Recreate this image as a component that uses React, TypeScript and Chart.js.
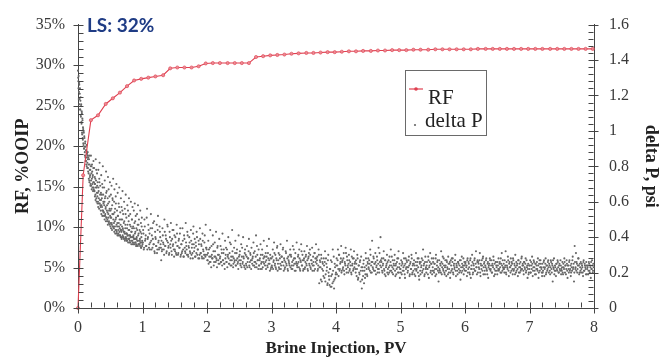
import { useEffect, useRef } from "react";
import { Chart, registerables } from "chart.js";

Chart.register(...registerables);

// ---------- Data ----------
// Recovery factor curve (RF, % OOIP) vs brine injection (PV)
const rfPV = [
  0, 0.08, 0.2, 0.31, 0.43, 0.54, 0.65, 0.76, 0.87, 0.98,
  1.09, 1.2, 1.32, 1.43, 1.54, 1.65, 1.76, 1.87, 1.98, 2.09,
  2.2, 2.32, 2.43, 2.54, 2.65, 2.76, 2.87, 2.98, 3.09, 3.2,
  3.31, 3.42, 3.54, 3.65, 3.76, 3.87, 3.98, 4.09, 4.2, 4.31,
  4.42, 4.54, 4.65, 4.76, 4.87, 4.98, 5.09, 5.2, 5.31, 5.43,
  5.54, 5.65, 5.76, 5.87, 5.98, 6.09, 6.2, 6.32, 6.43, 6.54,
  6.65, 6.76, 6.87, 6.98, 7.09, 7.2, 7.32, 7.43, 7.54, 7.65,
  7.76, 7.87, 7.98,
];
const rfPct = [
  0, 16.4, 23.2, 23.8, 25.2, 25.9, 26.6, 27.4, 28.1, 28.3,
  28.45, 28.6, 28.75, 29.6, 29.7, 29.7, 29.7, 29.85, 30.2, 30.25,
  30.25, 30.25, 30.25, 30.25, 30.25, 31.0, 31.1, 31.2, 31.25, 31.3,
  31.4, 31.45, 31.5, 31.5, 31.55, 31.6, 31.6, 31.65, 31.7, 31.7,
  31.75, 31.75, 31.8, 31.8, 31.85, 31.85, 31.85, 31.9, 31.9, 31.9,
  31.95, 31.95, 31.95, 31.95, 31.95, 31.95, 32.0, 32.0, 32.0, 32.0,
  32.0, 32.0, 32.0, 32.0, 32.0, 32.0, 32.0, 32.0, 32.0, 32.0,
  32.0, 32.0, 32.0,
];

// delta P readings (hundredths of psi), evenly sampled within each 1-PV interval.
// Pass A: samples at the start of each sampling step.
const dp0_1 = [
  134, 128, 131, 122, 126, 118, 124, 112, 119, 108,
  115, 104, 110, 98, 106, 95, 101, 92, 99, 90,
  96, 88, 93, 85, 91, 83, 89, 80, 87, 82,
  88, 79, 85, 76, 84, 72, 81, 74, 78, 70,
  86, 69, 80, 73, 77, 68, 75, 71, 83, 67,
  79, 66, 74, 70, 64, 84, 72, 62, 68, 76,
  63, 71, 60, 78, 66, 59, 73, 82, 61, 69,
  57, 65, 75, 58, 62, 70, 55, 80, 64, 59,
  54, 68, 60, 72, 52, 63, 57, 77, 51, 66,
  58, 50, 62, 74, 53, 67, 49, 60, 56, 71,
  48, 55, 64, 51, 69, 47, 58, 62, 46, 73,
  53, 45, 60, 67, 49, 56, 44, 63, 51, 70,
  43, 55, 48, 65, 52, 42, 59, 46, 68, 50,
  41, 54, 47, 62, 44, 57, 40, 50, 66, 45,
  53, 40, 48, 60, 43, 56, 39, 47, 64, 42,
  51, 38, 45, 58, 41, 55, 39, 49, 62, 44,
  37, 47, 53, 40, 60, 43, 38, 50, 45, 57,
  36, 46, 41, 55, 39, 48, 59, 37, 43, 52,
  35, 45, 40, 53, 38, 47, 58, 36, 42, 50,
  36, 44, 39, 55, 37, 48, 34, 42, 51, 38,
];
const dp1_2 = [
  36, 44, 33, 50, 38, 41, 35, 56, 39, 47,
  34, 42, 37, 53, 33, 45, 39, 36, 49, 31,
  40, 35, 47, 33, 52, 38, 34, 43, 36, 27,
  32, 45, 37, 33, 50, 35, 41, 31, 38, 46,
  34, 30, 43, 36, 48, 32, 39, 35, 44, 29,
  33, 40, 31, 47, 35, 30, 38, 34, 42, 29,
  36, 31, 45, 33, 29, 39, 32, 48, 35, 30,
  41, 29, 34, 37, 31, 44, 30, 36, 28, 46,
  32, 39, 29, 35, 43, 30, 33, 38, 28, 45,
  31, 36, 29, 42, 33, 28, 37, 30, 47, 34,
];
const dp2_3 = [
  30, 27, 38, 33, 26, 44, 29, 35, 28, 41,
  32, 26, 37, 29, 43, 27, 34, 30, 25, 39,
  28, 35, 26, 31, 42, 27, 33, 25, 38, 30,
  26, 33, 29, 40, 25, 31, 27, 36, 24, 44,
  29, 25, 34, 27, 38, 24, 31, 28, 26, 41,
  27, 32, 24, 36, 29, 25, 40, 28, 23, 33,
  30, 24, 35, 26, 28, 39, 23, 31, 27, 34,
  25, 29, 37, 24, 32, 26, 41, 23, 30, 27,
  33, 24, 28, 36, 25, 22, 30, 26, 38, 29,
  24, 31, 27, 35, 23, 28, 39, 25, 30, 22,
];
const dp3_4 = [
  28, 23, 33, 26, 37, 24, 30, 22, 27, 35,
  25, 31, 22, 28, 36, 24, 29, 26, 34, 21,
  27, 23, 32, 25, 38, 22, 29, 26, 24, 33,
  30, 22, 26, 35, 24, 28, 21, 31, 25, 37,
  23, 29, 26, 33, 22, 27, 36, 24, 30, 21,
  27, 32, 23, 29, 25, 35, 22, 28, 31, 24,
  30, 22, 27, 34, 24, 26, 21, 31, 28, 36,
  25, 29, 22, 33, 14, 27, 23, 30, 15, 26,
  21, 28, 17, 32, 19, 25, 23, 14, 30, 18,
  13, 22, 27, 12, 19, 33, 15, 11, 25, 17,
];
const dp4_5 = [
  20, 28, 24, 33, 18, 30, 22, 26, 35, 21,
  27, 23, 31, 19, 25, 34, 22, 29, 24, 20,
  30, 21, 26, 33, 19, 24, 28, 22, 32, 25,
  22, 27, 18, 30, 16, 24, 20, 26, 15, 29,
  11, 23, 18, 27, 21, 17, 31, 24, 19, 26,
  28, 22, 25, 33, 20, 26, 38, 23, 29, 21,
  25, 31, 19, 24, 27, 22, 34, 20, 26, 40,
  23, 28, 20, 25, 32, 21, 27, 18, 24, 30,
  26, 19, 23, 29, 21, 33, 24, 20, 27, 22,
  24, 30, 18, 25, 22, 28, 20, 32, 23, 17,
];
const dp5_6 = [
  22, 27, 19, 25, 31, 21, 24, 17, 28, 23,
  26, 20, 23, 29, 18, 25, 22, 30, 19, 24,
  21, 27, 24, 18, 31, 22, 26, 20, 28, 16,
  25, 19, 23, 28, 21, 33, 24, 18, 26, 22,
  20, 26, 22, 29, 17, 24, 31, 21, 25, 19,
  23, 28, 20, 25, 18, 30, 22, 26, 21, 15,
  27, 21, 24, 32, 19, 25, 22, 28, 20, 23,
  24, 18, 26, 22, 29, 20, 25, 17, 27, 21,
  22, 28, 19, 25, 23, 30, 18, 24, 21, 26,
  25, 20, 27, 16, 23, 29, 21, 24, 19, 26,
];
const dp6_7 = [
  21, 26, 23, 18, 28, 22, 25, 20, 27, 17,
  24, 30, 19, 25, 22, 28, 21, 32, 23, 26,
  20, 25, 22, 31, 18, 24, 27, 21, 29, 23,
  26, 19, 23, 28, 21, 25, 17, 24, 22, 27,
  22, 27, 20, 24, 29, 18, 25, 21, 26, 23,
  19, 24, 28, 22, 26, 20, 25, 31, 21, 23,
  25, 20, 23, 32, 19, 24, 22, 27, 18, 26,
  23, 28, 21, 25, 19, 27, 22, 24, 30, 20,
  21, 25, 18, 27, 23, 20, 26, 22, 29, 24,
  24, 19, 26, 22, 28, 21, 23, 17, 25, 20,
];
const dp7_8 = [
  22, 27, 20, 24, 29, 18, 23, 26, 21, 25,
  19, 24, 22, 28, 17, 25, 21, 27, 23, 20,
  25, 21, 26, 18, 23, 28, 20, 24, 22, 27,
  20, 24, 19, 27, 22, 25, 15, 23, 28, 21,
  23, 18, 25, 21, 26, 20, 24, 22, 27, 19,
  21, 26, 19, 23, 28, 20, 24, 22, 25, 17,
  24, 20, 27, 22, 18, 25, 21, 29, 23, 15,
  35, 22, 31, 26, 20, 24, 28, 19, 25, 21,
  20, 25, 23, 18, 27, 21, 24, 22, 26, 19,
  23, 19, 26, 21, 24, 17, 22, 27, 20, 25,
];

// Pass B: samples half a step later.
const dpB0_1 = [
  130, 124, 118, 127, 115, 121, 112, 117, 109, 114,
  105, 111, 99, 107, 96, 102, 93, 100, 90, 97,
  91, 86, 94, 83, 89, 81, 92, 85, 79, 86,
  84, 77, 81, 73, 86, 71, 78, 75, 69, 80,
  72, 76, 67, 81, 70, 74, 66, 79, 68, 71,
  66, 70, 63, 73, 61, 68, 78, 60, 65, 69,
  59, 65, 57, 68, 62, 56, 71, 59, 64, 58,
  55, 61, 53, 64, 57, 52, 68, 55, 60, 54,
  52, 58, 50, 62, 53, 56, 49, 65, 51, 55,
  49, 54, 47, 59, 51, 48, 55, 63, 47, 52,
  46, 51, 45, 56, 48, 44, 53, 61, 46, 50,
  45, 48, 43, 54, 46, 42, 50, 59, 44, 47,
  42, 46, 41, 52, 44, 41, 48, 57, 43, 45,
  41, 44, 40, 50, 43, 39, 46, 55, 41, 44,
  40, 43, 39, 49, 42, 38, 45, 53, 40, 42,
  39, 42, 38, 47, 41, 37, 44, 52, 39, 41,
  38, 41, 37, 46, 40, 36, 43, 50, 38, 40,
  37, 40, 36, 45, 39, 36, 42, 49, 37, 39,
  36, 39, 35, 44, 38, 35, 41, 47, 36, 38,
  36, 38, 35, 43, 37, 34, 40, 46, 35, 37,
];
const dpB1_2 = [
  37, 42, 34, 46, 39, 35, 51, 33, 40, 44,
  36, 33, 45, 38, 41, 34, 48, 36, 32, 43,
  39, 35, 31, 44, 37, 33, 46, 40, 34, 38,
  33, 41, 36, 30, 43, 35, 39, 32, 47, 37,
  35, 31, 40, 34, 38, 30, 44, 36, 33, 41,
  32, 37, 30, 42, 35, 31, 39, 34, 45, 30,
  36, 32, 38, 29, 41, 34, 31, 37, 33, 43,
  30, 35, 40, 32, 28, 38, 34, 31, 42, 36,
  34, 29, 37, 31, 40, 33, 28, 36, 30, 39,
  31, 35, 28, 38, 32, 30, 41, 29, 34, 33,
];
const dpB2_3 = [
  27, 31, 25, 29, 34, 26, 23, 30, 28, 36,
  24, 29, 32, 26, 28, 23, 35, 27, 30, 25,
  29, 26, 33, 24, 27, 31, 25, 22, 28, 34,
  26, 23, 30, 28, 25, 37, 24, 29, 27, 32,
  23, 28, 26, 31, 24, 27, 33, 25, 22, 29,
  30, 25, 27, 23, 34, 26, 29, 24, 31, 22,
  25, 29, 23, 28, 32, 24, 26, 30, 22, 27,
  28, 24, 31, 26, 23, 29, 25, 35, 27, 22,
  24, 27, 22, 30, 26, 33, 23, 28, 25, 29,
  26, 22, 29, 24, 31, 25, 27, 21, 28, 23,
];
const dpB3_4 = [
  24, 29, 22, 27, 31, 25, 23, 28, 34, 21,
  27, 23, 30, 25, 22, 29, 26, 33, 24, 28,
  22, 26, 31, 24, 28, 21, 27, 25, 30, 23,
  29, 24, 22, 27, 33, 25, 28, 21, 26, 24,
  25, 30, 23, 28, 21, 26, 32, 24, 27, 22,
  28, 22, 26, 30, 24, 27, 21, 29, 25, 33,
  23, 27, 25, 21, 29, 24, 31, 22, 26, 28,
  27, 21, 24, 30, 23, 26, 16, 28, 22, 25,
  18, 24, 26, 15, 28, 21, 13, 27, 20, 16,
  22, 12, 18, 26, 14, 21, 29, 16, 23, 19,
];
const dpB4_5 = [
  24, 19, 27, 22, 30, 21, 25, 28, 20, 26,
  22, 28, 21, 26, 24, 31, 20, 27, 23, 25,
  27, 22, 24, 20, 29, 25, 21, 28, 23, 26,
  20, 25, 22, 28, 17, 24, 19, 27, 21, 23,
  16, 21, 25, 14, 23, 19, 28, 22, 18, 25,
  23, 27, 21, 30, 24, 20, 26, 22, 28, 25,
  21, 26, 23, 29, 20, 25, 22, 31, 24, 27,
  26, 21, 24, 28, 22, 19, 27, 23, 25, 20,
  22, 27, 20, 24, 26, 21, 29, 23, 19, 25,
  27, 21, 24, 19, 26, 23, 28, 20, 25, 22,
];
const dpB5_6 = [
  20, 24, 26, 21, 23, 28, 19, 25, 22, 27,
  23, 21, 27, 24, 19, 26, 22, 28, 20, 25,
  25, 19, 22, 26, 21, 24, 28, 23, 18, 26,
  21, 26, 24, 20, 27, 22, 25, 19, 29, 23,
  24, 22, 19, 27, 23, 26, 20, 25, 28, 21,
  26, 21, 25, 22, 28, 19, 24, 27, 23, 20,
  22, 25, 20, 26, 23, 29, 21, 24, 19, 27,
  21, 27, 23, 19, 25, 22, 26, 20, 24, 28,
  26, 20, 24, 22, 27, 21, 25, 23, 19, 26,
  22, 24, 21, 27, 20, 25, 23, 28, 22, 24,
];
const dpB6_7 = [
  25, 21, 24, 27, 20, 26, 23, 19, 28, 22,
  22, 26, 20, 24, 27, 21, 25, 23, 19, 27,
  26, 23, 27, 20, 25, 22, 24, 28, 19, 25,
  21, 24, 27, 22, 19, 26, 23, 25, 28, 21,
  24, 20, 25, 23, 27, 22, 19, 26, 24, 21,
  26, 22, 21, 25, 23, 28, 20, 24, 27, 22,
  22, 27, 24, 20, 26, 23, 29, 21, 25, 23,
  20, 24, 26, 22, 28, 21, 25, 19, 23, 26,
  24, 22, 27, 20, 25, 23, 21, 28, 22, 25,
  21, 26, 23, 25, 20, 27, 24, 22, 19, 24,
];
const dpB7_8 = [
  24, 20, 26, 22, 25, 21, 27, 23, 19, 25,
  22, 26, 21, 24, 20, 27, 23, 25, 22, 18,
  20, 23, 27, 22, 25, 19, 24, 21, 26, 23,
  25, 21, 23, 26, 20, 24, 27, 22, 19, 24,
  21, 25, 22, 27, 23, 20, 25, 21, 24, 22,
  23, 20, 25, 22, 26, 24, 19, 27, 21, 24,
  22, 26, 21, 24, 20, 23, 27, 22, 25, 20,
  26, 23, 21, 25, 22, 28, 24, 20, 23, 26,
  22, 24, 20, 26, 21, 25, 23, 19, 24, 22,
  24, 21, 25, 20, 23, 26, 22, 24, 21, 23,
];

const DP_PASS_A = [dp0_1, dp1_2, dp2_3, dp3_4, dp4_5, dp5_6, dp6_7, dp7_8];
const DP_PASS_B = [dpB0_1, dpB1_2, dpB2_3, dpB3_4, dpB4_5, dpB5_6, dpB6_7, dpB7_8];

// ---------- Styles ----------
const SERIF = '"Liberation Serif", "Times New Roman", serif';
const AXIS_COLOR = "#444444";
const LABEL_COLOR = "#3a3a3a";
const RF_COLOR = "#df3f4f";
const DOT_COLOR = "#666666";

function deltaPPoints() {
  const pts: { x: number; y: number }[] = [];
  DP_PASS_A.forEach((seg, s) => {
    seg.forEach((v, i) => pts.push({ x: s + i / seg.length, y: v / 100 }));
  });
  DP_PASS_B.forEach((seg, s) => {
    seg.forEach((v, i) => pts.push({ x: s + (i + 0.5) / seg.length, y: v / 100 }));
  });
  return pts;
}

function strokeSeg(ctx: CanvasRenderingContext2D, x1: number, y1: number, x2: number, y2: number) {
  ctx.beginPath();
  ctx.moveTo(x1, y1);
  ctx.lineTo(x2, y2);
  ctx.stroke();
}

const decorPlugin = {
  id: "decor",
  afterDraw(chart: any) {
    const ctx: CanvasRenderingContext2D = chart.ctx;
    const { chartArea, scales } = chart;
    const xs = scales.x;
    const yl = scales.y;
    const yr = scales.y1;
    const L = Math.round(chartArea.left) + 0.5;
    const R = Math.round(chartArea.right) - 0.5;
    const B = Math.round(chartArea.bottom) - 0.5;
    ctx.save();
    ctx.strokeStyle = AXIS_COLOR;
    ctx.lineWidth = 1;
    // left axis ticks: every 1 %, major every 5 %
    for (let k = 0; k <= 35; k++) {
      const p = Math.round(yl.getPixelForValue(k)) + 0.5;
      const major = k % 5 === 0;
      strokeSeg(ctx, L - (major ? 5 : 0), p, L + 5, p);
    }
    // right axis ticks: every 0.04, major every 0.2
    for (let k = 0; k <= 40; k++) {
      const p = Math.round(yr.getPixelForValue(k * 0.04)) + 0.5;
      const major = k % 5 === 0;
      strokeSeg(ctx, R - 5, p, R + (major ? 5 : 0), p);
    }
    // x axis ticks: every 0.2, major every 1
    for (let k = 0; k <= 40; k++) {
      const p = Math.round(xs.getPixelForValue(k * 0.2)) + 0.5;
      const major = k % 5 === 0;
      strokeSeg(ctx, p, B - 5, p, B + (major ? 6 : 0));
    }

    // annotation
    ctx.font = "bold 19px Lato, sans-serif";
    ctx.fillStyle = "#1f3c85";
    ctx.textAlign = "left";
    ctx.textBaseline = "alphabetic";
    ctx.fillText("LS: 32%", 87, 32);

    // legend box
    ctx.strokeStyle = "#6a6a6a";
    ctx.lineWidth = 1;
    ctx.strokeRect(405.5, 70.5, 81, 65);
    ctx.strokeStyle = RF_COLOR;
    ctx.lineWidth = 1.2;
    strokeSeg(ctx, 409, 89, 423, 89);
    ctx.fillStyle = RF_COLOR;
    ctx.beginPath();
    ctx.arc(416, 89, 1.8, 0, Math.PI * 2);
    ctx.fill();
    ctx.fillStyle = DOT_COLOR;
    ctx.beginPath();
    ctx.arc(415, 125, 1.1, 0, Math.PI * 2);
    ctx.fill();
    ctx.fillStyle = "#222";
    ctx.font = `21px ${SERIF}`;
    ctx.fillText("RF", 428, 104);
    ctx.fillText("delta P", 425, 127);
    ctx.restore();
  },
};

export default function App() {
  const ref = useRef<HTMLCanvasElement>(null);

  useEffect(() => {
    const canvas = ref.current;
    if (!canvas) return;
    const rfData = rfPV.map((x, i) => ({ x, y: rfPct[i] }));
    const chart = new Chart(canvas, {
      type: "scatter",
      data: {
        datasets: [
          {
            label: "RF",
            data: rfData,
            yAxisID: "y",
            showLine: true,
            borderColor: RF_COLOR,
            borderWidth: 1.1,
            backgroundColor: "#e8707c",
            pointRadius: 1.6,
            pointBorderWidth: 0.6,
            pointBorderColor: RF_COLOR,
            pointBackgroundColor: "#ec8a94",
            clip: false,
          },
          {
            label: "delta P",
            data: deltaPPoints(),
            yAxisID: "y1",
            showLine: false,
            pointRadius: 1.05,
            pointBorderWidth: 0,
            pointBackgroundColor: DOT_COLOR,
            backgroundColor: DOT_COLOR,
            clip: false,
          },
        ],
      },
      options: {
        animation: false,
        responsive: true,
        maintainAspectRatio: false,
        events: [],
        layout: { padding: { top: 18, left: 0, right: 0, bottom: 0 } },
        plugins: {
          legend: { display: false },
          tooltip: { enabled: false },
        },
        scales: {
          x: {
            type: "linear",
            position: "bottom",
            min: 0,
            max: 8,
            grid: { display: false, drawTicks: false },
            border: { display: true, color: AXIS_COLOR, width: 1 },
            ticks: {
              stepSize: 1,
              padding: 10,
              color: LABEL_COLOR,
              font: { family: SERIF, size: 16 },
              maxRotation: 0,
            },
            title: {
              display: true,
              text: "Brine Injection, PV",
              color: "#222",
              font: { family: SERIF, size: 17, weight: "bold" },
              padding: { top: 0, bottom: 2 },
            },
            afterFit: (s: any) => {
              s.height = 53;
            },
          },
          y: {
            type: "linear",
            position: "left",
            min: 0,
            max: 35,
            grid: { display: false, drawTicks: false },
            border: { display: true, color: AXIS_COLOR, width: 1 },
            ticks: {
              stepSize: 5,
              padding: 13,
              color: LABEL_COLOR,
              font: { family: SERIF, size: 16 },
              callback: (v: any) => `${v}%`,
            },
            title: {
              display: true,
              text: "RF, %OOIP",
              color: "#222",
              font: { family: SERIF, size: 18, weight: "bold" },
              padding: { top: 13, bottom: 0 },
            },
            afterFit: (s: any) => {
              s.width = 78;
            },
          },
          y1: {
            type: "linear",
            position: "right",
            min: 0,
            max: 1.6,
            grid: { display: false, drawTicks: false },
            border: { display: true, color: AXIS_COLOR, width: 1 },
            ticks: {
              stepSize: 0.2,
              padding: 15,
              color: LABEL_COLOR,
              font: { family: SERIF, size: 16 },
              callback: (v: any) => String(Number(Number(v).toFixed(1))),
            },
            title: {
              display: true,
              text: "delta P, psi",
              color: "#222",
              font: { family: SERIF, size: 18, weight: "bold" },
              padding: { top: 1, bottom: 0 },
            },
            afterFit: (s: any) => {
              s.width = 68;
            },
          },
        },
      },
      plugins: [decorPlugin],
    });
    return () => chart.destroy();
  }, []);

  return (
    <div style={{ position: "absolute", left: 0, top: 0, width: 662, height: 361, background: "#fff" }}>
      <canvas ref={ref} />
    </div>
  );
}
